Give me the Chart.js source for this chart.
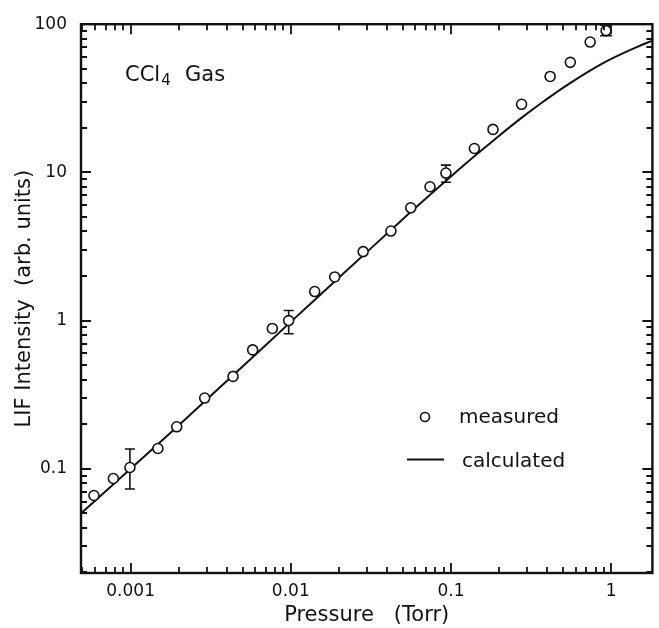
<!DOCTYPE html>
<html>
<head>
<meta charset="utf-8">
<script src="https://cdn.jsdelivr.net/npm/chart.js@4.4.0/dist/chart.umd.min.js"></script>
<style>
  html, body { margin: 0; padding: 0; background: #fff; }
  #wrap { width: 659px; height: 628px; }
</style>
</head>
<body>
<div id="wrap"><canvas id="canvasLif" width="659" height="628"></canvas></div>
<script>
// measured LIF intensity (open circles)
const pressureMeasured = [0.00059, 0.00078, 0.00099, 0.00148, 0.00194, 0.0029, 0.00436, 0.00578, 0.00767, 0.0097,
    0.0141, 0.0188, 0.0283, 0.0422, 0.0561, 0.074, 0.093, 0.140, 0.183, 0.276, 0.416, 0.556, 0.74, 0.93];
const intensityMeasured = [0.066, 0.086, 0.102, 0.137, 0.192, 0.30, 0.42, 0.634, 0.885, 1.0,
    1.57, 1.97, 2.92, 4.02, 5.77, 8.0, 9.9, 14.5, 19.5, 28.8, 44.4, 55.3, 75.8, 90.5];
// error bars (null = none)
const errLow  = [null, null, 0.073, null, null, null, null, null, null, 0.815,
    null, null, null, null, null, null, 8.57, null, null, null, null, null, null, 83.6];
const errHigh = [null, null, 0.136, null, null, null, null, null, null, 1.17,
    null, null, null, null, null, null, 11.2, null, null, null, null, null, null, 98.5];

// calculated curve
const pressureCalc = [0.00048, 0.001, 0.002, 0.005, 0.01, 0.02, 0.05, 0.07, 0.1, 0.14, 0.185, 0.278, 0.378, 0.54, 0.88, 1.42, 1.85];
const intensityCalc = [0.049, 0.1, 0.197, 0.49, 0.98, 1.95, 4.83, 6.69, 9.39, 12.84, 16.5, 23.5, 30.1, 39.3, 54.2, 69.5, 78.3];

const xTickLabels = [0.001, 0.01, 0.1, 1];
const yTickLabels = [0.1, 1, 10, 100];
const xRange = [0.00049, 1.81];
const yRange = [0.0198, 100];

const ink = '#111';
const fontFamily = '"DejaVu Sans", sans-serif';

const drawExtras = {
    id: 'drawExtras',
    afterDatasetsDraw(chart) {
        const { ctx, chartArea: a, scales: { x, y } } = chart;
        ctx.save();
        ctx.strokeStyle = ink;
        ctx.lineWidth = 1.6;
        ctx.beginPath();
        pressureMeasured.forEach((p, i) => {
            if (errLow[i] == null) return;
            const px = x.getPixelForValue(p);
            const py = y.getPixelForValue(intensityMeasured[i]);
            const yTop = y.getPixelForValue(errHigh[i]);
            const yBot = y.getPixelForValue(errLow[i]);
            const cap = i === pressureMeasured.length - 1 ? 6 : 5;
            if (yTop < py - 5) { ctx.moveTo(px, yTop); ctx.lineTo(px, py - 5); }
            if (yBot > py + 5) { ctx.moveTo(px, py + 5); ctx.lineTo(px, yBot); }
            ctx.moveTo(px - cap, yTop); ctx.lineTo(px + cap, yTop);
            ctx.moveTo(px - cap, yBot); ctx.lineTo(px + cap, yBot);
        });
        ctx.stroke();

        // inward ticks on all four sides
        ctx.lineWidth = 1.8;
        ctx.beginPath();
        for (let d = -4; d <= 2; d++) {
            for (let m = 1; m <= 9; m++) {
                const v = m * Math.pow(10, d);
                const len = m === 1 ? 10 : 6;
                if (v >= x.min && v <= x.max) {
                    const px = Math.round(x.getPixelForValue(v));
                    ctx.moveTo(px, a.bottom); ctx.lineTo(px, a.bottom - len);
                    ctx.moveTo(px, a.top); ctx.lineTo(px, a.top + len);
                }
                if (v >= y.min && v <= y.max) {
                    const py = Math.round(y.getPixelForValue(v));
                    ctx.moveTo(a.left, py); ctx.lineTo(a.left + len, py);
                    ctx.moveTo(a.right, py); ctx.lineTo(a.right - len, py);
                }
            }
        }
        ctx.stroke();
        ctx.lineWidth = 2.4;
        ctx.strokeRect(a.left, a.top, a.right - a.left, a.bottom - a.top);

        // sample label
        ctx.fillStyle = ink;
        ctx.textBaseline = 'alphabetic';
        ctx.font = '21px ' + fontFamily;
        ctx.fillText('CCl', 125, 81);
        const w = ctx.measureText('CCl').width;
        ctx.font = '15px ' + fontFamily;
        ctx.fillText('4', 125 + w + 1, 85);
        ctx.font = '21px ' + fontFamily;
        ctx.fillText('Gas', 185, 81);

        // legend
        ctx.font = '20px ' + fontFamily;
        ctx.fillText('measured', 459, 423);
        ctx.fillText('calculated', 462, 467);
        ctx.beginPath();
        ctx.lineWidth = 1.6;
        ctx.arc(425, 417, 4.5, 0, Math.PI * 2);
        ctx.stroke();
        ctx.beginPath();
        ctx.lineWidth = 2;
        ctx.moveTo(407, 459.5); ctx.lineTo(444, 459.5);
        ctx.stroke();
        ctx.restore();
    }
};

const tickFont = { family: fontFamily, size: 17 };
const titleFont = { family: fontFamily, size: 21 };

new Chart(document.getElementById('canvasLif'), {
    data: {
        datasets: [{
            type: 'scatter',
            label: 'measured',
            data: pressureMeasured.map((p, i) => ({ x: p, y: intensityMeasured[i] })),
            pointStyle: 'circle',
            pointRadius: 5,
            pointBorderWidth: 1.6,
            pointBorderColor: ink,
            pointBackgroundColor: '#fff',
        }, {
            type: 'line',
            label: 'calculated',
            data: pressureCalc.map((p, i) => ({ x: p, y: intensityCalc[i] })),
            borderColor: ink,
            borderWidth: 2,
            pointRadius: 0,
            tension: 0.4,
            fill: false,
        }]
    },
    options: {
        responsive: false,
        animation: false,
        devicePixelRatio: 1,
        layout: { padding: { top: 20, right: 2, left: 0, bottom: 0 } },
        plugins: { legend: { display: false }, tooltip: { enabled: false } },
        scales: {
            x: {
                type: 'logarithmic',
                position: 'bottom',
                min: xRange[0],
                max: xRange[1],
                afterFit: s => { s.height = 55; },
                afterBuildTicks: s => { s.ticks = xTickLabels.map(v => ({ value: v })); },
                grid: { display: false, drawTicks: false },
                border: { display: false },
                ticks: { callback: v => String(v), font: tickFont, color: ink, padding: 8, maxRotation: 0, autoSkip: false },
                title: { display: true, text: 'Pressure   (Torr)', font: titleFont, color: ink, padding: { top: 0, bottom: 0 } }
            },
            y: {
                type: 'logarithmic',
                position: 'left',
                min: yRange[0],
                max: yRange[1],
                afterFit: s => { s.width = 81; },
                afterBuildTicks: s => { s.ticks = yTickLabels.map(v => ({ value: v })); },
                grid: { display: false, drawTicks: false },
                border: { display: false },
                ticks: { callback: v => String(v), font: tickFont, color: ink, padding: 14, autoSkip: false },
                title: { display: true, text: 'LIF Intensity  (arb. units)', font: titleFont, color: ink, padding: { top: 12, bottom: 0 } }
            }
        }
    },
    plugins: [drawExtras]
});
</script>
</body>
</html>
